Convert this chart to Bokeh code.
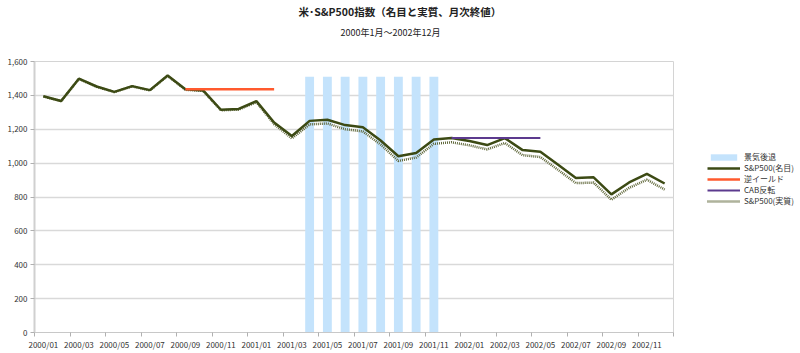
from bokeh.plotting import figure
from bokeh.models import (FixedTicker, NumeralTickFormatter, Title, Legend, LegendItem,
                          Range1d)
from bokeh.embed import file_html
from bokeh.resources import INLINE

months = [f"{y}/{m:02d}" for y in (2000, 2001, 2002) for m in range(1, 13)]

sp500_nominal = [1394.46, 1366.42, 1498.58, 1452.43, 1420.60, 1454.60, 1430.83, 1517.68,
                 1436.51, 1429.40, 1314.95, 1320.28,
                 1366.01, 1239.94, 1160.33, 1249.46, 1255.82, 1224.42, 1211.23, 1133.58,
                 1040.94, 1059.78, 1139.45, 1148.08,
                 1130.20, 1106.73, 1147.39, 1076.92, 1067.14, 989.82, 911.62, 916.07,
                 815.28, 885.76, 936.31, 879.82]

sp500_real = [1394, 1366, 1497, 1451, 1419, 1453, 1429, 1515, 1433, 1426, 1312, 1316,
              1360, 1230, 1146, 1229, 1234, 1200, 1187, 1110, 1013, 1033, 1114, 1123,
              1105, 1081, 1119, 1047, 1036, 960, 882, 885, 784, 854, 902, 844]

recession = [None] * 15 + [1510] * 8 + [None] * 13

inverted_yield = [None] * 8 + [1436.51] * 6 + [None] * 22
cab_reversal = [None] * 23 + [1148.08] * 6 + [None] * 7

title_text = "米･S&P500指数（名目と実質、月次終値）"
subtitle_text = "2000年1月～2002年12月"

FONT = "Noto Sans CJK JP"
idx = list(range(len(months)))

p = figure(frame_width=639, frame_height=271, output_backend="svg", toolbar_location=None,
           x_range=Range1d(-0.5, 35.5), y_range=Range1d(0, 1600), title=None,
           min_border_left=34, min_border_right=127, min_border_top=60,
           min_border_bottom=22)
p.background_fill_color = "white"
p.border_fill_color = "white"
p.outline_line_color = "#d4d4d4"
p.outline_line_width = 1

rx = [i for i, v in zip(idx, recession) if v is not None]
rtop = [v for v in recession if v is not None]
r_rec = p.vbar(x=rx, top=rtop, bottom=0, width=0.5, fill_color="#c4e3fc",
               line_color=None)

def segs(vals):
    xs = [i for i, v in zip(idx, vals) if v is not None]
    ys = [v for v in vals if v is not None]
    return xs, ys

r_real = p.line(idx, sp500_real, line_color="#5e6638", line_width=2.5,
                line_dash="1 1")
r_nom = p.line(idx, sp500_nominal, line_color="#3c4a14", line_width=2.5)
xi, yi = segs(inverted_yield)
r_inv = p.line(xi, yi, line_color="#ff5a2e", line_width=2.5)
xc, yc = segs(cab_reversal)
r_cab = p.line(xc, yc, line_color="#5c3a8e", line_width=2)

p.xaxis.ticker = FixedTicker(ticks=list(range(0, 36, 2)),
                             minor_ticks=[i - 0.5 for i in range(0, 37, 2)])
p.xaxis.major_label_overrides = {i: months[i] for i in range(0, 36, 2)}
p.xaxis.major_tick_out = 0
p.xaxis.major_tick_in = 0
p.xaxis.minor_tick_out = 4
p.xaxis.minor_tick_in = 0
p.xaxis.minor_tick_line_color = "#b0b0b0"
p.xaxis.axis_line_color = "#c8c8c8"
p.xaxis.major_label_standoff = 2
p.xaxis.major_label_text_font_size = "8px"
p.xaxis.major_label_text_color = "#333333"
p.xaxis.major_label_text_font = FONT

p.yaxis.ticker = FixedTicker(ticks=list(range(0, 1601, 200)))
p.yaxis.formatter = NumeralTickFormatter(format="0,0")
p.yaxis.major_tick_out = 4
p.yaxis.major_tick_in = 0
p.yaxis.minor_tick_out = 0
p.yaxis.minor_tick_in = 0
p.yaxis.major_tick_line_color = "#b0b0b0"
p.yaxis.axis_line_color = "#d0d0d0"
p.yaxis.axis_line_width = 2
p.yaxis.major_label_standoff = 3
p.yaxis.major_label_text_font_size = "8px"
p.yaxis.major_label_text_color = "#333333"
p.yaxis.major_label_text_font = FONT

p.xgrid.visible = False
p.ygrid.grid_line_color = "#d9d9d9"
p.ygrid.grid_line_width = 1.5

# vertical spacer between the frame and the subtitle
p.add_layout(Title(text=" ", text_font_size="1px", standoff=16), "above")
p.add_layout(Title(text=subtitle_text, align="left", offset=306, standoff=6,
                   vertical_align="middle",
                   text_font=FONT, text_font_size="9px", text_font_style="normal",
                   text_color="#222222"), "above")
p.add_layout(Title(text=title_text, align="left", offset=264, standoff=4,
                   vertical_align="middle",
                   text_font=FONT, text_font_size="10.5px", text_font_style="bold",
                   text_color="#222222"), "above")

legend = Legend(items=[
    LegendItem(label="景気後退", renderers=[r_rec]),
    LegendItem(label="S&P500(名目)", renderers=[r_nom]),
    LegendItem(label="逆イールド", renderers=[r_inv]),
    LegendItem(label="CAB反転", renderers=[r_cab]),
    LegendItem(label="S&P500(実質)", renderers=[r_real]),
], location=(34, 126))
legend.background_fill_alpha = 0
legend.border_line_color = None
legend.label_text_font = FONT
legend.label_text_font_size = "8px"
legend.label_text_color = "#333333"
legend.glyph_width = 33
legend.glyph_height = 8
legend.label_height = 11
legend.label_standoff = 4
legend.spacing = 0
legend.padding = 0
legend.margin = 0
p.add_layout(legend, "right")

open("out.html", "w").write(file_html(p, INLINE))
